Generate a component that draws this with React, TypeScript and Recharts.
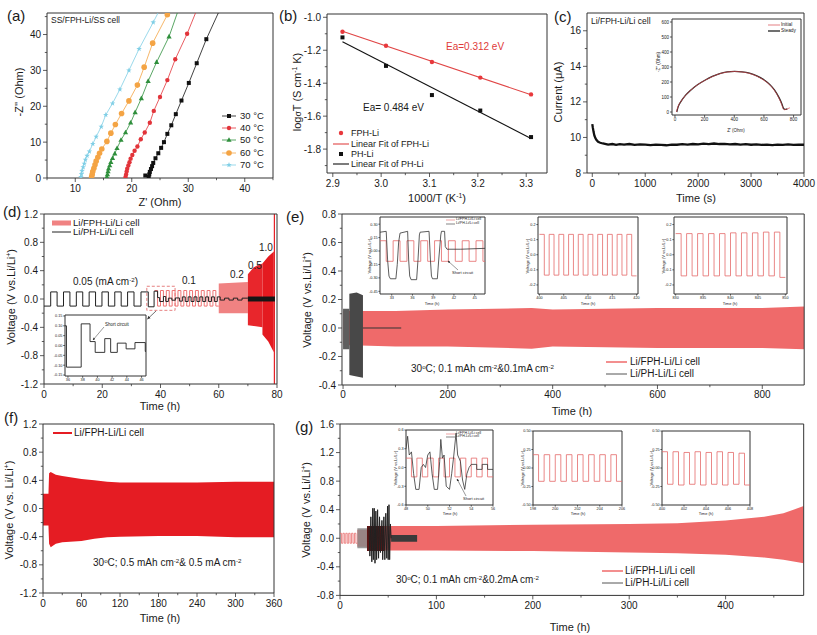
import React from "react";
import { ComposedChart, Line, Area, XAxis, YAxis, ReferenceArea } from "recharts";

// (a) Nyquist tails, points are [Z', -Z'']
const A_30 = [[22.4, 0.7], [23.0, 0.3], [23.1, 1.0], [23.2, 1.7], [23.4, 2.5], [23.6, 3.3], [23.8, 4.2], [24.2, 5.5], [24.7, 6.9], [25.2, 8.4], [25.7, 10.0], [26.3, 12.3], [27.0, 14.7], [27.8, 17.8], [28.8, 21.6], [30.1, 26.5], [31.5, 32.0], [33.2, 38.7], [35.9, 48]];
const A_40 = [[18.9, 0.3], [19.0, 1.0], [19.1, 1.8], [19.2, 2.6], [19.4, 3.5], [19.6, 4.4], [19.8, 5.4], [20.1, 6.4], [20.5, 7.6], [21.0, 8.8], [21.6, 10.8], [22.3, 12.7], [23.2, 15.4], [23.9, 18.7], [25.0, 22.6], [26.3, 27.3], [27.7, 33.1], [29.8, 40.2], [31.8, 48]];
const A_50 = [[15.6, 0.3], [15.7, 1.0], [15.8, 1.8], [15.9, 2.6], [16.1, 3.5], [16.3, 4.4], [16.6, 5.5], [17.0, 6.8], [17.4, 8.3], [18.1, 10.6], [18.9, 12.7], [19.8, 15.4], [20.6, 18.3], [21.7, 22.2], [22.9, 27.0], [24.4, 32.3], [26.6, 39.4], [28.5, 48]];
const A_60 = [[12.9, 0.3], [13.0, 1.0], [13.1, 1.8], [13.3, 2.7], [13.5, 3.7], [13.7, 4.7], [14.0, 5.8], [14.3, 6.9], [14.7, 8.1], [15.6, 10.2], [16.3, 12.5], [17.1, 14.9], [18.2, 18.0], [19.5, 21.5], [21.0, 25.9], [22.2, 30.9], [23.7, 37.6], [26.3, 45.5], [27.0, 48]];
const A_70 = [[11.0, 0.3], [11.1, 1.1], [11.2, 2.0], [11.4, 3.0], [11.6, 4.0], [11.8, 5.1], [12.1, 6.2], [12.5, 7.4], [13.1, 9.5], [13.7, 11.5], [14.6, 14.3], [15.4, 17.6], [16.6, 20.8], [17.9, 24.7], [19.5, 30.0], [21.3, 36.0], [23.8, 43.4], [25.3, 48]];
const A_LABELS = ["30 °C", "40 °C", "50 °C", "60 °C", "70 °C"];

// (b) Arrhenius
const B_T = [2.92, 3.01, 3.105, 3.205, 3.31];
const B_FPH = [-1.088, -1.173, -1.271, -1.366, -1.468];
const B_PH = [-1.122, -1.295, -1.472, -1.566, -1.727];
const B_FPH_FIT = [[2.92, -1.085], [3.31, -1.47]];
const B_PH_FIT = [[2.92, -1.148], [3.31, -1.735]];

// (c) polarization current and inset impedance
const C_T = [0, 10, 25, 40, 60, 80, 110, 150, 200, 260, 300, 380, 450, 520, 600, 700, 800, 900, 1000, 1100, 1200, 1300, 1400, 1500, 1600, 1700, 1800, 1900, 2000, 2100, 2200, 2300, 2400, 2500, 2600, 2700, 2800, 2900, 3000, 3100, 3200, 3300, 3400, 3500, 3600, 3700, 3800, 3900, 4000];
const C_I = [10.75, 10.55, 10.3, 10.1, 9.95, 9.85, 9.75, 9.7, 9.66, 9.63, 9.6, 9.63, 9.58, 9.62, 9.6, 9.63, 9.58, 9.61, 9.6, 9.57, 9.6, 9.58, 9.56, 9.6, 9.59, 9.62, 9.6, 9.63, 9.61, 9.65, 9.62, 9.66, 9.63, 9.64, 9.61, 9.63, 9.6, 9.62, 9.59, 9.61, 9.58, 9.6, 9.57, 9.6, 9.58, 9.61, 9.58, 9.6, 9.59];
const C_INITIAL = [[10, 0], [20, 35], [40, 70], [70, 110], [100, 140], [150, 180], [200, 210], [250, 235], [300, 255], [350, 266], [400, 270], [450, 267], [500, 258], [550, 240], [600, 212], [640, 180], [670, 145], [700, 95], [720, 50], [730, 22], [740, 15], [760, 22], [775, 28]];
const C_STEADY = [[12, 0], [22, 36], [42, 72], [72, 112], [102, 142], [152, 182], [202, 212], [252, 237], [302, 256], [352, 267], [402, 271], [452, 268], [502, 259], [552, 241], [602, 213], [642, 181], [672, 146], [702, 96], [722, 52], [732, 24], [742, 17], [758, 21]];

// (d) rate test, black = PH-Li step levels [t, V]
const D_PH = [[0, -0.1], [2.3, 0.1], [4.5, -0.1], [6.7, 0.1], [8.9, -0.1], [11.1, 0.1], [13.3, -0.1], [15.5, 0.1], [17.7, -0.1], [19.9, 0.1], [22.1, -0.1], [24.3, 0.1], [26.5, -0.1], [28.7, 0.1], [30.9, -0.1], [33.3, 0.1], [35.8, -0.11], [37.8, 0.11], [39.0, 0.02], [39.7, -0.035], [41.0, 0.035], [41.8, -0.035], [42.7, 0.012], [43.9, -0.017], [45.1, 0.015], [46.5, -0.03], [47.5, 0.03], [48.5, -0.035], [49.5, 0.03], [50.5, -0.035], [51.5, 0.03], [52.5, -0.035], [53.5, 0.03], [54.5, -0.035], [55.5, 0.03], [56.5, -0.035], [57.5, 0.03], [58.5, -0.035], [59.5, 0.03], [60.5, -0.015], [62, 0.012], [63.5, -0.015], [65, 0.012], [66.5, -0.015], [68, 0.012], [70, 0.012]];
const D_FPH_01 = [0.12, -0.1, 0.12, -0.1, 0.12, -0.1, 0.12, -0.1, 0.12, -0.1, 0.12, -0.1, 0.12, -0.1, 0.12, -0.1, 0.12, -0.1, 0.12, -0.1, 0.12, -0.1];
const D_FPH_02 = [[60, -0.2, 0.22], [70, -0.2, 0.24]];
const D_FPH_05 = [[70, -0.37, 0.35], [72, -0.38, 0.45], [75, -0.4, 0.5]];
const D_FPH_10 = [[75, -0.5, 0.5], [77, -0.6, 0.6], [78.9, -0.75, 0.67]];
const D_FPH_SHORT = [[78.9, -1.2, 1.2], [79.3, -1.2, 1.2]];
const D_PH_THICK = [[70, -0.035, 0.035], [79.3, -0.035, 0.035]];

// (e) 0.1 mA cm-2 cycling, bands are [t, low, high]
const E_FPH = [[0, -0.12, 0.12], [100, -0.13, 0.12], [200, -0.13, 0.13], [360, -0.145, 0.14], [400, -0.13, 0.13], [600, -0.14, 0.14], [800, -0.14, 0.14], [880, -0.15, 0.15]];
const E_PH_A = [[0, -0.15, 0.135], [12, -0.15, 0.135]];
const E_PH_B = [[12, -0.33, 0.24], [26, -0.34, 0.25], [38, -0.35, 0.23]];
const E_PH_LINE = [[38, 0], [111, 0]];
const E1_FPH = [0.115, -0.115, 0.115, -0.115, 0.115, -0.115, 0.115, -0.115, 0.115, -0.115, 0.115, -0.115, 0.115, -0.115, 0.115, -0.115];
const E1_PH = [[31.3, 0.21], [32.2, 0.22], [32.4, -0.1], [32.6, -0.28], [32.8, -0.31], [33.6, -0.31], [33.8, -0.15], [34.0, 0.1], [34.2, 0.2], [35.3, 0.22], [35.45, -0.1], [35.6, -0.28], [35.8, -0.32], [36.6, -0.32], [36.8, -0.1], [37.0, 0.18], [37.1, 0.21], [38.4, 0.22], [38.6, -0.1], [38.75, -0.28], [38.9, -0.31], [39.6, -0.31], [39.8, -0.1], [40.1, 0.18], [40.2, 0.22], [40.65, 0.22], [40.75, 0.05], [41.0, 0.02], [43, 0.02], [46.5, 0.03]];
const E2_FPH = [0.135, -0.135, 0.135, -0.135, 0.135, -0.135, 0.135, -0.135, 0.135, -0.135, 0.135, -0.135, 0.135, -0.135, 0.135, -0.135, 0.135, -0.135, 0.135, -0.14];
const E3_FPH = [0.14, -0.14, 0.14, -0.14, 0.14, -0.14, 0.14, -0.14, 0.14, -0.14, 0.145, -0.14, 0.145, -0.14, 0.145, -0.14, 0.15, -0.14, 0.15, -0.15];

// (f) 0.5 mA cm-2 cycling
const F_FPH = [[0, -0.24, 0.21], [8.5, -0.24, 0.21], [9.5, -0.5, 0.5], [12, -0.55, 0.52], [20, -0.5, 0.48], [30, -0.48, 0.46], [60, -0.46, 0.42], [80, -0.43, 0.4], [100, -0.41, 0.38], [120, -0.4, 0.37], [180, -0.39, 0.37], [240, -0.39, 0.37], [300, -0.41, 0.38], [360, -0.41, 0.38]];

// (g) 0.2 mA cm-2 cycling
const G_FPH_0 = [0.07, -0.07, 0.07, -0.07, 0.07, -0.07, 0.07, -0.07, 0.07, -0.07, 0.07, -0.07];
const G_FPH = [[18, -0.12, 0.12], [29.9, -0.12, 0.12], [30, -0.17, 0.17], [100, -0.17, 0.17], [200, -0.18, 0.19], [300, -0.2, 0.2], [350, -0.21, 0.21], [400, -0.23, 0.25], [440, -0.27, 0.3], [460, -0.3, 0.35], [481, -0.35, 0.45]];
const G_DARK = [[28, -0.18, 0.17], [46, -0.18, 0.17]];
const G_PH_0 = [[18, -0.14, 0.14], [29, -0.14, 0.14]];
const G_PH_SPIKES = [[30, 0.15], [31, -0.25], [32, 0.3], [33, -0.33], [34, 0.42], [34.6, -0.3], [35.5, 0.42], [36.3, -0.35], [37.2, 0.38], [38, -0.3], [39, 0.4], [40, -0.28], [41, 0.3], [42, -0.2], [43.5, 0.25], [44.3, -0.3], [45.5, 0.3], [46.5, -0.3], [47.5, 0.35], [48.5, -0.28], [49.3, 0.45], [50, -0.3], [50.8, 0.47], [51.5, -0.3], [52.3, 0.2], [53, 0.0]];
const G_PH_TAIL = [[53, -0.05, 0.045], [80, -0.05, 0.045]];
const G1_FPH = [0.15, -0.15, 0.15, -0.15, 0.15, -0.15, 0.15, -0.15, 0.15, -0.15, 0.15, -0.15, 0.15, -0.15, 0.15, -0.15];
const G1_PH = [[48, 0.3], [48.15, 0.5], [48.3, 0.2], [48.5, 0.25], [48.7, -0.1], [48.9, -0.35], [49.2, -0.35], [49.4, 0.0], [49.6, 0.05], [49.8, 0.0], [50.0, 0.2], [50.2, 0.25], [50.4, -0.1], [50.6, -0.35], [50.9, -0.35], [51.1, 0.1], [51.2, 0.45], [51.35, 0.15], [51.5, 0.2], [51.7, -0.3], [52.0, -0.35], [52.2, -0.1], [52.4, 0.2], [52.6, 0.55], [52.75, 0.2], [53.0, 0.1], [53.2, -0.2], [53.4, -0.35], [53.6, -0.1], [53.8, 0.0], [54.0, 0.05], [54.5, 0.05], [54.5, -0.03], [55.0, -0.03], [55.0, 0.05], [55.5, 0.05], [55.5, -0.03], [56, -0.03]];
const G2_FPH = [0.18, -0.18, 0.18, -0.18, 0.18, -0.18, 0.18, -0.18, 0.18, -0.18, 0.18, -0.18, 0.18, -0.18, 0.18, -0.18];
const G3_FPH = [0.22, -0.22, 0.22, -0.23, 0.21, -0.22, 0.22, -0.23, 0.21, -0.22, 0.22, -0.23, 0.21, -0.22, 0.2, -0.23];

const AX = "#333";
const TXT = "#1a1a1a";
const SALMON = "#ef6a6a";

const xy = (a: number[][]) => a.map(([x, y]) => ({ x, y }));
const band = (a: number[][]) => a.map(([x, lo, hi]) => ({ x, r: [lo, hi] }));
const steps = (t0: number, half: number, levels: number[]) => {
  const out = levels.map((v, i) => ({ x: t0 + i * half, y: v }));
  out.push({ x: t0 + levels.length * half, y: levels[levels.length - 1] });
  return out;
};
const f1 = (v: number) => v.toFixed(1);
const f2 = (v: number) => v.toFixed(2);

type Ax = { d: [number, number]; major: number[]; minor?: number[]; fmt?: (v: number) => string };

function Plot({ box, xa, ya, fs = 10, tl = 4, pad = 36, children }: { box: number[]; xa: Ax; ya: Ax; fs?: number; tl?: number; pad?: number; children?: React.ReactNode }) {
  const [x0, y0, x1, y1] = box;
  const fx = xa.fmt || ((v: number) => String(v));
  const fy = ya.fmt || ((v: number) => String(v));
  const isMaj = (list: number[], v: number) => list.some((m) => Math.abs(m - v) < 1e-6);
  const xTick = (p: any) => {
    const v = p.payload.value;
    const m = isMaj(xa.major, v);
    return (
      <g>
        <line x1={p.x} x2={p.x} y1={p.y} y2={p.y + (m ? tl : tl * 0.55)} stroke={AX} strokeWidth={0.8} />
        {m && <text x={p.x} y={p.y + tl + fs * 0.95} textAnchor="middle" fontSize={fs} fill={TXT}>{fx(v)}</text>}
      </g>
    );
  };
  const yTick = (p: any) => {
    const v = p.payload.value;
    const m = isMaj(ya.major, v);
    return (
      <g>
        <line x1={p.x} x2={p.x - (m ? tl : tl * 0.55)} y1={p.y} y2={p.y} stroke={AX} strokeWidth={0.8} />
        {m && <text x={p.x - tl - fs * 0.2} y={p.y + fs * 0.36} textAnchor="end" fontSize={fs} fill={TXT}>{fy(v)}</text>}
      </g>
    );
  };
  // axes get 1px of room (an axis of size 0 is not drawn), margins give back that pixel
  return (
    <div style={{ position: "absolute", left: x0 - pad, top: y0 - pad }}>
      <ComposedChart width={x1 - x0 + 2 * pad} height={y1 - y0 + 2 * pad} margin={{ top: pad, right: pad, bottom: pad - 1, left: pad - 1 }}>
        <XAxis type="number" dataKey="x" domain={xa.d} ticks={[...xa.major, ...(xa.minor || [])]} interval={0} height={1} tickSize={0} tickMargin={0} tickLine={false} axisLine={false} tick={xTick} allowDataOverflow />
        <YAxis type="number" domain={ya.d} ticks={[...ya.major, ...(ya.minor || [])]} interval={0} width={1} tickSize={0} tickMargin={0} tickLine={false} axisLine={false} tick={yTick} allowDataOverflow />
        {children}
        <ReferenceArea x1={xa.d[0]} x2={xa.d[1]} y1={ya.d[0]} y2={ya.d[1]} fill="none" stroke={AX} strokeWidth={1} />
      </ComposedChart>
    </div>
  );
}

function shape(kind: string, cx: number, cy: number, c: string, key?: number) {
  if (kind === "sq") return <rect key={key} x={cx - 2} y={cy - 2} width={4} height={4} fill={c} />;
  if (kind === "ci") return <circle key={key} cx={cx} cy={cy} r={2.2} fill={c} />;
  if (kind === "ci2") return <circle key={key} cx={cx} cy={cy} r={2.8} fill={c} />;
  if (kind === "tri") return <polygon key={key} points={`${cx},${cy - 2.8} ${cx + 2.6},${cy + 1.8} ${cx - 2.6},${cy + 1.8}`} fill={c} />;
  const pts: string[] = [];
  for (let i = 0; i < 10; i++) {
    const r = i % 2 ? 1.2 : 2.9;
    const a = -Math.PI / 2 + (i * Math.PI) / 5;
    pts.push(`${cx + r * Math.cos(a)},${cy + r * Math.sin(a)}`);
  }
  return <polygon key={key} points={pts.join(" ")} fill={c} />;
}
const dotOf = (kind: string, c: string) => (p: any) => (p.cx == null || p.cy == null ? <g key={p.index} /> : shape(kind, p.cx, p.cy, c, p.index));

function T({ x, y, s = 11, c = TXT, a = "start", r = false, children }: { x: number; y: number; s?: number; c?: string; a?: string; r?: boolean; children?: React.ReactNode }) {
  const tx = a === "middle" ? "-50%" : a === "end" ? "-100%" : "0";
  return (
    <div style={{ position: "absolute", left: x, top: y, fontSize: s, color: c, whiteSpace: "nowrap", lineHeight: 1, transform: r ? "translate(-50%,-50%) rotate(-90deg)" : `translate(${tx},-50%)` }}>
      {children}
    </div>
  );
}
const Sup = ({ children }: { children: React.ReactNode }) => <span style={{ fontSize: "0.62em", verticalAlign: "0.55em" }}>{children}</span>;

function Sw({ x, y, w = 14, c, kind, sw = 1, h = 0 }: { x: number; y: number; w?: number; c: string; kind?: string; sw?: number; h?: number }) {
  return (
    <svg style={{ position: "absolute", left: x, top: y - 5 }} width={w} height={10}>
      {h > 0 ? <rect x={0} y={5 - h / 2} width={w} height={h} fill={c} /> : <line x1={0} x2={w} y1={5} y2={5} stroke={c} strokeWidth={sw} />}
      {kind && shape(kind, w / 2, 5, c)}
    </svg>
  );
}
const Bg = ({ b }: { b: number[] }) => <div style={{ position: "absolute", left: b[0], top: b[1], width: b[2] - b[0], height: b[3] - b[1], background: "#fff" }} />;

const line = (data: any[], c: string, w = 1, type: any = "linear", key?: string) => (
  <Line key={key} data={data} dataKey="y" type={type} stroke={c} strokeWidth={w} dot={false} activeDot={false} isAnimationActive={false} />
);
const area = (data: any[], c: string, key?: string, op = 1) => (
  <Area key={key} data={data} dataKey="r" type="linear" stroke="none" fill={c} fillOpacity={op} activeDot={false} isAnimationActive={false} />
);

const VOLT = (extra = "") => (
  <>Voltage (V vs.{extra}Li/Li<Sup>+</Sup>)</>
);

export default function App() {
  const aSeries: [number[][], string, string][] = [
    [A_30, "#111", "sq"],
    [A_40, "#e2343a", "ci"],
    [A_50, "#2f8f3c", "tri"],
    [A_60, "#f4a444", "ci2"],
    [A_70, "#80cfe6", "star"],
  ];
  const vAxis: Ax = { d: [-1.2, 1.2], major: [-1.2, -0.8, -0.4, 0, 0.4, 0.8, 1.2], minor: [-1.0, -0.6, -0.2, 0.2, 0.6, 1.0], fmt: f1 };
  const insetV = (d: [number, number], major: number[], fmt: (v: number) => string): Ax => ({ d, major, fmt });
  const IFS = 3.8;

  return (
    <div style={{ position: "absolute", left: 0, top: 0, width: 817, height: 635, background: "#fff", fontFamily: "'Liberation Sans', Arial, sans-serif", overflow: "hidden" }}>
      {/* (a) */}
      <Plot box={[47, 13, 273, 178]} xa={{ d: [5, 45], major: [10, 20, 30, 40], minor: [5, 15, 25, 35, 45] }} ya={{ d: [0, 46], major: [0, 10, 20, 30, 40], minor: [5, 15, 25, 35, 45] }}>
        {aSeries.map(([d, c, k], i) => (
          <Line key={"a" + i} data={xy(d)} dataKey="y" stroke={c} strokeWidth={0.8} dot={dotOf(k, c)} activeDot={false} isAnimationActive={false} />
        ))}
      </Plot>
      <T x={7} y={15} s={15}>(a)</T>
      <T x={51} y={20} s={8.5}>SS/FPH-Li/SS cell</T>
      {aSeries.map(([, c, k], i) => (
        <React.Fragment key={"al" + i}>
          <Sw x={222} y={116 + i * 12.2} c={c} kind={k} sw={0.8} />
          <T x={240} y={116 + i * 12.2} s={9.5}>{A_LABELS[i]}</T>
        </React.Fragment>
      ))}
      <T x={19} y={92} r s={11}>-Z'' (Ohm)</T>
      <T x={160} y={202} a="middle" s={11}>Z' (Ohm)</T>

      {/* (b) */}
      <Plot box={[327, 14, 547, 173]} xa={{ d: [2.888, 3.343], major: [2.9, 3.0, 3.1, 3.2, 3.3], minor: [2.95, 3.05, 3.15, 3.25], fmt: f1 }} ya={{ d: [-1.945, -0.98], major: [-1.0, -1.2, -1.4, -1.6, -1.8], minor: [-1.1, -1.3, -1.5, -1.7, -1.9], fmt: f1 }}>
        {line(xy(B_FPH_FIT), "#e04545", 1.1, "linear", "bf")}
        {line(xy(B_PH_FIT), "#111", 1.1, "linear", "bp")}
        <Line data={B_T.map((x, i) => ({ x, y: B_FPH[i] }))} dataKey="y" stroke="none" dot={dotOf("ci", "#e8383c")} activeDot={false} isAnimationActive={false} />
        <Line data={B_T.map((x, i) => ({ x, y: B_PH[i] }))} dataKey="y" stroke="none" dot={dotOf("sq", "#111")} activeDot={false} isAnimationActive={false} />
      </Plot>
      <T x={279} y={15} s={15}>(b)</T>
      <T x={446} y={47} s={10} c="#e03a3a">Ea=0.312 eV</T>
      <T x={363} y={108} s={10}>Ea= 0.484 eV</T>
      <Sw x={333} y={132.7} w={16} c="#e8383c" kind="ci" sw={0} />
      <T x={351} y={132.7} s={9}>FPH-Li</T>
      <Sw x={333} y={144} w={16} c="#e04545" sw={1.1} />
      <T x={351} y={144} s={9}>Linear Fit of FPH-Li</T>
      <Sw x={333} y={154} w={16} c="#111" kind="sq" sw={0} />
      <T x={351} y={154} s={9}>PH-Li</T>
      <Sw x={333} y={164} w={16} c="#111" sw={1.1} />
      <T x={351} y={164} s={9}>Linear Fit of PH-Li</T>
      <T x={297} y={92} r s={11}>log<span style={{ fontSize: "0.8em" }}>σ</span>T (S cm<Sup>-1</Sup> K)</T>
      <T x={437} y={198} a="middle" s={11}>1000/T (K<Sup>-1</Sup>)</T>

      {/* (c) */}
      <Plot box={[587, 13, 804, 173]} xa={{ d: [-100, 4000], major: [0, 1000, 2000, 3000, 4000], minor: [500, 1500, 2500, 3500] }} ya={{ d: [8, 17], major: [8, 10, 12, 14, 16], minor: [9, 11, 13, 15] }}>
        {line(C_T.map((x, i) => ({ x, y: C_I[i] })), "#111", 2.3)}
      </Plot>
      <T x={554} y={16} s={15}>(c)</T>
      <T x={591} y={21} s={8.5}>Li/FPH-Li/Li cell</T>
      <T x={558} y={92} r s={11}>Current (μA)</T>
      <T x={696} y={198} a="middle" s={11}>Time (s)</T>
      <Bg b={[652, 17, 802, 137]} />
      <Plot box={[672, 19, 801, 115]} fs={4.5} tl={2} pad={16} xa={{ d: [-20, 850], major: [0, 200, 400, 600, 800] }} ya={{ d: [-20, 620], major: [0, 100, 200, 300, 400, 500, 600] }}>
        {line(xy(C_STEADY), "#222", 1.3, "monotone", "cs")}
        {line(xy(C_INITIAL), "#d9484e", 0.7, "monotone", "ci")}
      </Plot>
      <Sw x={768} y={25} w={12} c="#d9484e" sw={0.7} />
      <T x={781} y={25} s={4.8}>Initial</T>
      <Sw x={768} y={31} w={12} c="#222" sw={1.3} />
      <T x={781} y={31} s={4.8}>Steady</T>
      <T x={659} y={62} r s={4.5}>-Z'' (Ohm)</T>
      <T x={736} y={131} a="middle" s={4.5}>Z' (Ohm)</T>

      {/* (d) */}
      <Plot box={[44, 214, 277, 384]} xa={{ d: [0, 80], major: [0, 20, 40, 60, 80], minor: [10, 30, 50, 70] }} ya={vAxis}>
        {line(steps(38, 1.0, D_FPH_01), "#ee7474", 1, "stepAfter", "d01")}
        {area(band(D_FPH_02), "#f08282", "d02")}
        {area(band(D_FPH_05), "#e8262c", "d05")}
        {area(band(D_FPH_10), "#e41a20", "d10")}
        {area(band(D_FPH_SHORT), "#e41a20", "dsc")}
        {line(xy(D_PH), "#222", 1, "stepAfter", "dph")}
        {area(band(D_PH_THICK), "#151515", "dthick")}
        <ReferenceArea x1={35.3} x2={45} y1={-0.16} y2={0.18} fill="none" stroke="#e06060" strokeDasharray="3 2" strokeWidth={0.8} />
      </Plot>
      <T x={3} y={211} s={15}>(d)</T>
      <Sw x={52} y={222.7} w={19} c="#f08282" h={5} />
      <T x={73} y={222.7} s={9.5}>Li/FPH-Li/Li cell</T>
      <Sw x={52} y={232.3} w={19} c="#222" sw={1} />
      <T x={73} y={232.3} s={9.5}>Li/PH-Li/Li cell</T>
      <T x={73} y={282} s={10}>0.05 (mA cm<Sup>-2</Sup>)</T>
      <T x={182} y={281} s={10}>0.1</T>
      <T x={230} y={275} s={10}>0.2</T>
      <T x={248} y={266} s={10}>0.5</T>
      <T x={259} y={248} s={10}>1.0</T>
      <T x={11} y={297} r s={11}>{VOLT()}</T>
      <T x={160} y={406} a="middle" s={11}>Time (h)</T>
      <Bg b={[50, 312, 147, 383]} />
      <Plot box={[65, 315, 146, 376]} fs={IFS} tl={1.8} pad={14} xa={{ d: [35.6, 46.6], major: [36, 38, 40, 42, 44, 46] }} ya={insetV([-0.155, 0.155], [-0.15, -0.1, -0.05, 0, 0.05, 0.1, 0.15], f2)}>
        {line(xy(D_PH), "#222", 0.9, "stepAfter", "din")}
      </Plot>
      <T x={105} y={325} s={4.5}>Short circuit</T>

      {/* (e) */}
      <Plot box={[341.5, 214, 803.7, 385]} xa={{ d: [-2, 880], major: [0, 200, 400, 600, 800], minor: [100, 300, 500, 700] }} ya={{ d: [-0.4, 0.8], major: [-0.4, -0.2, 0, 0.2, 0.4, 0.6, 0.8], minor: [-0.3, -0.1, 0.1, 0.3, 0.5, 0.7], fmt: f1 }}>
        {area(band(E_FPH), SALMON, "ef")}
        {area(band(E_PH_A), "#5e5e5e", "epa")}
        {area(band(E_PH_B), "#484848", "epb")}
        {line(xy(E_PH_LINE), "#333", 1, "linear", "epl")}
      </Plot>
      <T x={286} y={216} s={15}>(e)</T>
      <T x={411} y={369} s={10}>30<Sup>o</Sup>C; 0.1 mAh cm<Sup>-2</Sup>&amp;0.1mA cm<Sup>-2</Sup></T>
      <Sw x={606} y={361.7} w={21} c={SALMON} sw={1.5} />
      <T x={630} y={361.7} s={10}>Li/FPH-Li/Li cell</T>
      <Sw x={606} y={374} w={21} c="#555" sw={1} />
      <T x={630} y={374} s={10}>Li/PH-Li/Li cell</T>
      <T x={307} y={300} r s={11}>{VOLT()}</T>
      <T x={572} y={411} a="middle" s={11}>Time (h)</T>

      <Bg b={[364, 215.5, 489, 306]} />
      <Plot box={[380, 217, 485, 294]} fs={IFS} tl={1.6} pad={14} xa={{ d: [31.3, 46.5], major: [33, 36, 39, 42, 45] }} ya={insetV([-0.48, 0.38], [-0.45, -0.3, -0.15, 0, 0.15, 0.3], f2)}>
        {line(steps(31.2, 1.0, E1_FPH), "#e46a6a", 0.8, "stepAfter", "e1f")}
        {line(xy(E1_PH), "#333", 0.8, "linear", "e1p")}
      </Plot>
      <Sw x={446} y={220} w={9} c="#e46a6a" sw={0.6} />
      <T x={456} y={220} s={3.6}>Li/FPH-Li/Li cell</T>
      <Sw x={446} y={223.5} w={9} c="#333" sw={0.6} />
      <T x={456} y={223.5} s={3.6}>Li/PH-Li/Li cell</T>
      <T x={452} y={273} s={4}>Short circuit</T>
      <T x={370} y={256} r s={4}>{VOLT()}</T>
      <T x={432} y={303.5} a="middle" s={4}>Time (h)</T>

      <Bg b={[522, 215.5, 640, 306]} />
      <Plot box={[538, 217, 638, 294]} fs={IFS} tl={1.6} pad={14} xa={{ d: [399.7, 420.3], major: [400, 405, 410, 415, 420] }} ya={insetV([-0.26, 0.25], [-0.2, -0.1, 0, 0.1, 0.2], f1)}>
        {line(steps(400, 1.0, E2_FPH), "#e46a6a", 0.8, "stepAfter", "e2")}
      </Plot>
      <T x={528} y={256} r s={4}>{VOLT()}</T>
      <T x={588} y={303.5} a="middle" s={4}>Time (h)</T>

      <Bg b={[658, 215.5, 789, 306]} />
      <Plot box={[674, 217, 787, 294]} fs={IFS} tl={1.6} pad={14} xa={{ d: [829.7, 850.3], major: [830, 835, 840, 845, 850] }} ya={insetV([-0.26, 0.25], [-0.2, -0.1, 0, 0.1, 0.2], f1)}>
        {line(steps(830, 1.0, E3_FPH), "#e46a6a", 0.8, "stepAfter", "e3")}
      </Plot>
      <T x={664} y={256} r s={4}>{VOLT()}</T>
      <T x={730} y={303.5} a="middle" s={4}>Time (h)</T>

      {/* (f) */}
      <Plot box={[43, 424, 274, 593]} xa={{ d: [0, 360], major: [0, 60, 120, 180, 240, 300, 360], minor: [30, 90, 150, 210, 270, 330] }} ya={vAxis}>
        {area(band(F_FPH), "#e51c23", "ff")}
      </Plot>
      <T x={4} y={417} s={15}>(f)</T>
      <Sw x={53} y={433} w={19} c="#e51c23" sw={2} />
      <T x={74} y={433} s={10}>Li/FPH-Li/Li cell</T>
      <T x={93} y={563} s={10}>30<Sup>o</Sup>C; 0.5 mAh cm<Sup>-2</Sup>&amp; 0.5 mA cm<Sup>-2</Sup></T>
      <T x={9} y={510} r s={11}>{VOLT(" ")}</T>
      <T x={160} y={618} a="middle" s={11}>Time (h)</T>

      {/* (g) */}
      <Plot box={[340, 424.3, 803.7, 595.7]} xa={{ d: [0, 481], major: [0, 100, 200, 300, 400], minor: [50, 150, 250, 350, 450] }} ya={{ d: [-0.8, 1.6], major: [-0.8, -0.4, 0, 0.4, 0.8, 1.2, 1.6], minor: [-0.6, -0.2, 0.2, 0.6, 1.0, 1.4], fmt: f1 }}>
        {line(steps(0, 1.5, G_FPH_0), "#e86b6b", 0.8, "stepAfter", "g0")}
        {area(band(G_FPH), SALMON, "gf")}
        {area(band(G_PH_0), "#8a8a8a", "gp0", 0.85)}
        {area(band(G_DARK), "#5c1414", "gd")}
        {line(xy(G_PH_SPIKES), "#222", 1, "linear", "gs")}
        {area(band(G_PH_TAIL), "#3a3a3a", "gt")}
      </Plot>
      <T x={295} y={426} s={15}>(g)</T>
      <T x={396} y={580} s={10}>30<Sup>o</Sup>C; 0.1 mAh cm<Sup>-2</Sup>&amp;0.2mA cm<Sup>-2</Sup></T>
      <Sw x={602} y={571} w={21} c={SALMON} sw={1.5} />
      <T x={625} y={571} s={10}>Li/FPH-Li/Li cell</T>
      <Sw x={602} y={583} w={21} c="#555" sw={1} />
      <T x={625} y={583} s={10}>Li/PH-Li/Li cell</T>
      <T x={306} y={510} r s={11}>{VOLT()}</T>
      <T x={570} y={627} a="middle" s={11}>Time (h)</T>

      <Bg b={[390, 427, 495, 517]} />
      <Plot box={[406, 430, 493, 505]} fs={IFS} tl={1.6} pad={14} xa={{ d: [48, 56], major: [48, 50, 52, 54, 56] }} ya={insetV([-0.6, 0.6], [-0.6, -0.3, 0, 0.3, 0.6], f1)}>
        {line(steps(48, 0.5, G1_FPH), "#e46a6a", 0.8, "stepAfter", "g1f")}
        {line(xy(G1_PH), "#333", 0.8, "linear", "g1p")}
      </Plot>
      <Sw x={446} y={433.5} w={9} c="#e46a6a" sw={0.6} />
      <T x={456} y={433.5} s={3.6}>Li/FPH-Li/Li cell</T>
      <Sw x={446} y={437} w={9} c="#333" sw={0.6} />
      <T x={456} y={437} s={3.6}>Li/PH-Li/Li cell</T>
      <T x={463} y={499} s={4}>Short circuit</T>
      <T x={396} y={468} r s={4}>{VOLT()}</T>
      <T x={450} y={514} a="middle" s={4}>Time (h)</T>

      <Bg b={[517, 427, 624, 517]} />
      <Plot box={[533, 431, 622, 505]} fs={IFS} tl={1.6} pad={14} xa={{ d: [198, 206], major: [198, 200, 202, 204, 206] }} ya={insetV([-0.5, 0.5], [-0.5, -0.25, 0, 0.25, 0.5], f2)}>
        {line(steps(198, 0.5, G2_FPH), "#e46a6a", 0.8, "stepAfter", "g2")}
      </Plot>
      <T x={523} y={468} r s={4}>{VOLT()}</T>
      <T x={578} y={514} a="middle" s={4}>Time (h)</T>

      <Bg b={[646, 427, 752, 517]} />
      <Plot box={[662, 431, 750, 505]} fs={IFS} tl={1.6} pad={14} xa={{ d: [400, 408], major: [400, 402, 404, 406, 408] }} ya={insetV([-0.5, 0.5], [-0.5, -0.25, 0, 0.25, 0.5], f2)}>
        {line(steps(400, 0.5, G3_FPH), "#e46a6a", 0.8, "stepAfter", "g3")}
      </Plot>
      <T x={652} y={468} r s={4}>{VOLT()}</T>
      <T x={706} y={514} a="middle" s={4}>Time (h)</T>

      {/* annotation arrows */}
      <svg style={{ position: "absolute", left: 0, top: 0, pointerEvents: "none" }} width={817} height={635}>
        <defs>
          <marker id="ah" viewBox="0 0 10 10" refX="9" refY="5" markerWidth="5" markerHeight="5" orient="auto">
            <path d="M0,0 L10,5 L0,10 z" fill="#333" />
          </marker>
        </defs>
        <line x1={156} y1={311} x2={147.5} y2={319} stroke="#333" strokeWidth={0.7} markerEnd="url(#ah)" />
        <line x1={104} y1={327} x2={93} y2={340} stroke="#333" strokeWidth={0.5} markerEnd="url(#ah)" />
        <line x1={458} y1={270} x2={448} y2={261} stroke="#333" strokeWidth={0.5} markerEnd="url(#ah)" />
        <line x1={466} y1={496} x2={457} y2={479} stroke="#333" strokeWidth={0.5} markerEnd="url(#ah)" />
      </svg>
    </div>
  );
}
